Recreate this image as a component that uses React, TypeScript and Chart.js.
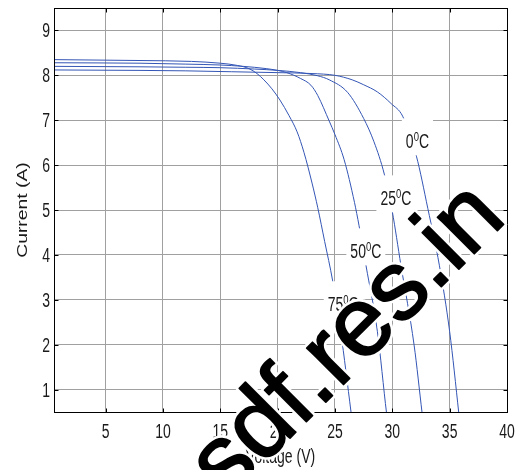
import React, { useEffect, useRef } from "react";
import { Chart, registerables } from "chart.js";

Chart.register(...registerables);

// Axis ticks
const xTickValues = [5, 10, 15, 20, 25, 30, 35, 40];
const yTickValues = [1, 2, 3, 4, 5, 6, 7, 8, 9];
const xMin = 0.5;
const xMax = 40;
const yMin = 0.5;
const yMax = 9.5;

// I-V curves (voltage V, current A)
const voltage0C = [0.5, 8, 12, 16, 20, 23, 25, 26.5, 27.5, 28.7, 29.9, 30.9, 32.1, 33.1, 34.1, 35.0, 35.8, 36.0];
const current0C = [8.12, 8.11, 8.1, 8.08, 8.06, 8.04, 8.0, 7.9, 7.79, 7.63, 7.37, 7.09, 6.2, 5.03, 3.77, 2.29, 0.47, 0];

const voltage25C = [0.5, 8, 12, 15, 18, 20, 22, 23.5, 24.5, 26.1, 27.5, 28.4, 29.3, 30.0, 30.75, 31.9, 32.6, 32.82];
const current25C = [8.2, 8.19, 8.18, 8.17, 8.14, 8.11, 8.06, 7.99, 7.9, 7.62, 7.04, 6.52, 5.8, 4.96, 3.77, 1.99, 0.47, 0];

const voltage50C = [0.5, 8, 12, 15, 17, 19, 20, 20.8, 22, 22.9, 23.5, 24.5, 25.0, 25.8, 26.7, 27.1, 27.7, 28.7, 29.5, 29.75];
const current50C = [8.28, 8.27, 8.25, 8.23, 8.2, 8.15, 8.11, 8.06, 7.93, 7.78, 7.55, 6.98, 6.68, 6.12, 5.17, 4.65, 3.77, 2.29, 0.47, 0];

const voltage75C = [0.5, 8, 12.5, 15, 16.5, 17.5, 18.2, 18.8, 19.5, 20.2, 21.0, 21.7, 22.3, 23.0, 23.5, 24.1, 24.8, 25.5, 26.4, 26.65];
const current75C = [8.35, 8.33, 8.31, 8.27, 8.22, 8.15, 8.04, 7.9, 7.7, 7.45, 7.1, 6.74, 6.28, 5.6, 5.05, 4.3, 3.42, 2.29, 0.5, 0];

// Curve labels (temperature text and where the label sits, in data units)
const labelTemps = ["0", "25", "50", "75"];
const labelVoltage = [32.19, 30.31, 27.69, 25.72];
const labelCurrent = [6.63, 5.36, 4.18, 3.0];

const xTitle = "Voltage (V)";
const yTitle = "Current (A)";
const watermark = "sdf.res.in";

const FONT = "'Liberation Sans', Arial, Helvetica, sans-serif";
const K = 1.38; // vertical stretch of the original raster text
const LINE = "#3355b5";

function stretchedText(ctx: CanvasRenderingContext2D, text: string, x: number, y: number, size: number, align: CanvasTextAlign) {
  ctx.save();
  ctx.translate(x, y);
  ctx.scale(1, K);
  ctx.font = `${size}px ${FONT}`;
  ctx.textAlign = align;
  ctx.textBaseline = "alphabetic";
  ctx.fillText(text, 0, 0);
  ctx.restore();
}

export default function App() {
  const ref = useRef<HTMLCanvasElement>(null);

  useEffect(() => {
    const canvas = ref.current;
    if (!canvas) return;

    const toPts = (xs: number[], ys: number[]) => xs.map((x, i) => ({ x, y: ys[i] }));
    const mk = (xs: number[], ys: number[]) => ({
      data: toPts(xs, ys),
      borderColor: LINE,
      borderWidth: 1,
      pointRadius: 0,
      fill: false,
      cubicInterpolationMode: "monotone" as const,
    });

    const matlabPlugin = {
      id: "matlabStyle",
      afterDatasetsDraw(chart: any) {
        const ctx: CanvasRenderingContext2D = chart.ctx;
        const xs = chart.scales.x;
        const ys = chart.scales.y;
        labelTemps.forEach((t, i) => {
          const cx = xs.getPixelForValue(labelVoltage[i]);
          const cy = ys.getPixelForValue(labelCurrent[i]);
          ctx.save();
          ctx.font = `14px ${FONT}`;
          const wMain = ctx.measureText(t).width;
          const wC = ctx.measureText("C").width;
          ctx.font = `9.5px ${FONT}`;
          const wSup = ctx.measureText("0").width;
          const tw = wMain + wSup + wC;
          ctx.fillStyle = "#ffffff";
          ctx.fillRect(cx - tw / 2 - 4, cy - 18.5, tw + 8, 37);
          ctx.fillStyle = "#1a1a1a";
          const base = cy + 11.5;
          let x0 = cx - tw / 2;
          stretchedText(ctx, t, x0, base, 14, "left");
          x0 += wMain;
          stretchedText(ctx, "0", x0, base - 7.5, 9.5, "left");
          x0 += wSup;
          stretchedText(ctx, "C", x0, base, 14, "left");
          ctx.restore();
        });
      },
      afterDraw(chart: any) {
        const ctx: CanvasRenderingContext2D = chart.ctx;
        const a = chart.chartArea;
        const xs = chart.scales.x;
        const ys = chart.scales.y;
        const L = Math.round(a.left) + 0.5;
        const R = Math.round(a.right) + 0.5;
        const T = Math.round(a.top) + 0.5;
        const B = Math.round(a.bottom) + 0.5;
        ctx.save();
        ctx.strokeStyle = "#000";
        ctx.lineWidth = 1;
        ctx.strokeRect(L, T, R - L, B - T);
        // inward tick marks on all four sides
        ctx.beginPath();
        xTickValues.forEach((v) => {
          const px = Math.round(xs.getPixelForValue(v)) + 0.5;
          ctx.moveTo(px, B);
          ctx.lineTo(px, B - 4);
          ctx.moveTo(px, T);
          ctx.lineTo(px, T + 4);
        });
        yTickValues.forEach((v) => {
          const py = Math.round(ys.getPixelForValue(v)) + 0.5;
          ctx.moveTo(L, py);
          ctx.lineTo(L + 4, py);
          ctx.moveTo(R, py);
          ctx.lineTo(R - 4, py);
        });
        ctx.stroke();
        // tick labels
        ctx.fillStyle = "#1a1a1a";
        xTickValues.forEach((v) => {
          stretchedText(ctx, String(v), xs.getPixelForValue(v), a.bottom + 26, 14, "center");
        });
        yTickValues.forEach((v) => {
          stretchedText(ctx, String(v), a.left - 4, ys.getPixelForValue(v) + 7, 14, "right");
        });
        // axis titles
        stretchedText(ctx, xTitle, (a.left + a.right) / 2, 463, 14, "center");
        ctx.save();
        ctx.translate(27, (a.top + a.bottom) / 2);
        ctx.rotate(-Math.PI / 2);
        ctx.scale(K, 1);
        ctx.font = `14px ${FONT}`;
        ctx.textAlign = "center";
        ctx.textBaseline = "alphabetic";
        ctx.fillText(yTitle, 0, 0);
        ctx.restore();
        // watermark
        ctx.save();
        ctx.translate(227, 501);
        ctx.rotate(-Math.PI / 4);
        ctx.font = `98px ${FONT}`;
        ctx.lineJoin = "round";
        ctx.strokeStyle = "#ffffff";
        ctx.lineWidth = 7;
        ctx.strokeText(watermark, 0, 0);
        ctx.fillStyle = "#000";
        ctx.fillText(watermark, 0, 0);
        ctx.strokeStyle = "#000";
        ctx.lineWidth = 1.8;
        ctx.strokeText(watermark, 0, 0);
        ctx.restore();
        ctx.restore();
      },
    };

    const chart = new Chart(canvas, {
      type: "line",
      data: {
        datasets: [
          mk(voltage0C, current0C),
          mk(voltage25C, current25C),
          mk(voltage50C, current50C),
          mk(voltage75C, current75C),
        ],
      },
      options: {
        animation: false,
        responsive: false,
        devicePixelRatio: 1,
        layout: { padding: { left: 54, top: 8, right: 14, bottom: 58 } },
        plugins: { legend: { display: false }, tooltip: { enabled: false } },
        scales: {
          x: {
            type: "linear",
            min: xMin,
            max: xMax,
            afterBuildTicks: (s: any) => {
              s.ticks = xTickValues.map((v) => ({ value: v }));
            },
            ticks: { display: false },
            grid: { color: "#a0a0a0", lineWidth: 1, drawTicks: false },
            border: { display: false },
          },
          y: {
            type: "linear",
            min: yMin,
            max: yMax,
            afterBuildTicks: (s: any) => {
              s.ticks = yTickValues.map((v) => ({ value: v }));
            },
            ticks: { display: false },
            grid: { color: "#a0a0a0", lineWidth: 1, drawTicks: false },
            border: { display: false },
          },
        },
      },
      plugins: [matlabPlugin],
    });
    return () => chart.destroy();
  }, []);

  return (
    <div style={{ position: "fixed", left: 0, top: 0, width: 521, height: 470, background: "#fff" }}>
      <canvas ref={ref} width={521} height={470} style={{ display: "block" }} />
    </div>
  );
}
